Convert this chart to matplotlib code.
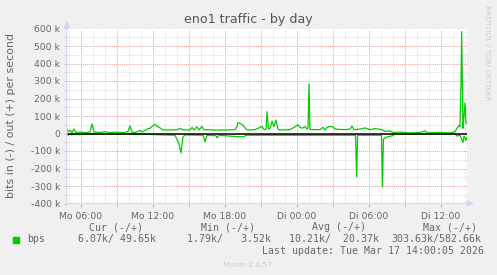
import matplotlib.pyplot as plt
from matplotlib.patches import Rectangle
import numpy as np

# hours since Monday 00:00 -> kbit/s
out_hours = [4.83, 4.92, 5.08, 5.25, 5.42, 5.58, 5.92, 6.33, 6.75, 6.92, 7.08, 7.58,
             8.0, 8.42, 8.83, 9.25, 9.67, 9.92, 10.08, 10.25, 10.5, 10.92, 11.08, 11.25,
             11.5, 11.58, 11.75, 12.0, 12.17, 12.33, 12.5, 12.67, 12.83, 13.42, 14.08, 14.25,
             14.5, 15.08, 15.25, 15.42, 15.67, 15.83, 16.08, 16.25, 16.5, 17.17, 18.0, 18.83,
             19.0, 19.08, 19.25, 19.5, 19.75, 19.92, 20.5, 21.08, 21.25, 21.42, 21.5, 21.63,
             21.75, 21.92, 22.08, 22.25, 22.42, 22.58, 23.42, 23.83, 24.08, 24.25, 24.42, 24.67,
             24.83, 24.92, 25.0, 25.08, 25.25, 25.92, 26.17, 26.33, 26.5, 26.75, 27.0, 27.17,
             28.0, 28.42, 28.58, 28.75, 29.25, 29.67, 30.08, 30.5, 31.08, 31.33, 31.75, 32.0,
             32.58, 33.42, 34.25, 34.67, 34.83, 35.92, 36.75, 37.17, 37.33, 37.5, 37.58, 37.67,
             37.72, 37.79, 37.83, 37.92, 38.0, 38.08, 38.17]
out_kbps = [28, 10, 18, 5, 25, 6, 8, 5, 9, 54, 8, 6,
            10, 5, 8, 6, 5, 12, 43, 8, 5, 18, 8, 15,
            22, 28, 30, 45, 52, 42, 35, 28, 20, 20, 22, 30,
            20, 20, 35, 20, 38, 20, 40, 20, 22, 20, 20, 22,
            40, 62, 58, 48, 25, 20, 22, 40, 22, 25, 125, 25,
            30, 70, 40, 77, 25, 20, 22, 38, 50, 35, 30, 40,
            25, 30, 283, 25, 22, 22, 35, 20, 35, 40, 38, 25,
            22, 25, 42, 22, 25, 32, 22, 28, 22, 12, 15, 5,
            8, 3, 6, 15, 4, 6, 3, 10, 30, 45, 40, 300,
            582, 250, 30, 100, 175, 60, 55]

in_hours = [4.83, 4.92, 5.08, 5.25, 5.42, 5.92, 6.33, 7.0, 8.0, 9.0, 10.0, 11.0,
            11.58, 12.83, 13.83, 14.17, 14.33, 14.5, 14.67, 16.17, 16.33, 16.5, 17.25, 17.33,
            17.5, 19.0, 19.58, 19.75, 28.88, 28.97, 29.05, 31.04, 31.12, 31.2, 31.5, 32.0,
            32.17, 34.0, 37.17, 37.33, 37.58, 37.83, 37.92, 38.08, 38.17]
in_kbps = [3, 10, 2, 8, 3, 6, 2, 3, 2, 3, 2, 4,
           5, 8, 10, 60, 111, 20, 8, 10, 47, 10, 12, 25,
           10, 18, 18, 10, 10, 247, 10, 10, 304, 32, 20, 12,
           2, 3, 2, 15, 8, 52, 15, 40, 20]

x_ticks = [6, 12, 18, 24, 30, 36]
x_tick_labels = ["Mo 06:00", "Mo 12:00", "Mo 18:00", "Di 00:00", "Di 06:00", "Di 12:00"]
y_ticks = [-400, -300, -200, -100, 0, 100, 200, 300, 400, 500, 600]
y_tick_labels = ["-400 k", "-300 k", "-200 k", "-100 k", "0", "100 k", "200 k",
                 "300 k", "400 k", "500 k", "600 k"]

legend_headers = ["Cur (-/+)", "Min (-/+)", "Avg (-/+)", "Max (-/+)"]
legend_values = ["6.07k/ 49.65k", "1.79k/   3.52k", "10.21k/  20.37k", "303.63k/582.66k"]

W, H = 497, 275


def px(x, y):
    '''pixel position (from top left) -> figure fraction'''
    return x / W, 1 - y / H


fig = plt.figure(figsize=(W / 100, H / 100), dpi=100, facecolor='#F0F0F0')
ax = fig.add_axes([67 / W, 1 - 203.5 / H, 400 / W, 175 / H])
ax.set_facecolor('white')

ax.set_xlim(4.833, 38.167)
ax.set_ylim(-400, 600)

ax.set_xticks(np.arange(6, 39, 3))
ax.set_xticklabels([x_tick_labels[x_ticks.index(h)] if h in x_ticks else "" for h in range(6, 39, 3)])
ax.set_xticks(np.arange(5, 39, 1), minor=True)
ax.set_yticks(y_ticks)
ax.set_yticklabels(y_tick_labels)
ax.set_yticks(np.arange(-350, 600, 100), minor=True)

ax.grid(which='minor', color='#DCDCDC', linestyle=(0, (1, 1)), linewidth=0.7)
ax.grid(which='major', color='#F2A0A0', linestyle=(0, (1, 1)), linewidth=0.7)
ax.set_axisbelow(True)

for s in ax.spines.values():
    s.set_visible(False)

ax.tick_params(axis='x', which='major', length=2, color='#F2A0A0', labelsize=6.7,
               labelcolor='#666666', pad=4)
ax.tick_params(axis='x', which='minor', length=0)
ax.tick_params(axis='y', which='both', length=2, color='#C8C8C8', labelsize=6.7,
               labelcolor='#666666', pad=3)

ax.plot(out_hours, out_kbps, color='#00CC00', linewidth=0.9)
ax.plot(in_hours, -np.array(in_kbps), color='#00CC00', linewidth=0.9)
ax.axhline(0, color='black', linewidth=1.1, zorder=3)

# axis arrows
arrow = dict(arrowstyle='-|>', color='#CFD6F8', lw=0.8, shrinkA=0, shrinkB=0, mutation_scale=10)
ax.annotate('', xy=(67, H - 21), xytext=(67, H - 203.5), xycoords='figure pixels',
            textcoords='figure pixels', arrowprops=arrow, annotation_clip=False)
ax.annotate('', xy=(474, H - 203.5), xytext=(67, H - 203.5), xycoords='figure pixels',
            textcoords='figure pixels', arrowprops=arrow, annotation_clip=False)

fig.text(*px(248.5, 20), "eno1 traffic - by day", ha='center', va='center',
         fontsize=9.1, color='#555555')
fig.text(*px(11, 116), "bits in (-) / out (+) per second", ha='center', va='center',
         rotation=90, fontsize=7.9, color='#666666')
fig.text(*px(487.5, 53), "RRDTOOL / TOBI OETIKER", ha='center', va='center',
         rotation=270, fontsize=5.4, color='#CCCCCC')

mono = 'DejaVu Sans Mono'
for label, x in zip(legend_headers, [89.3, 201, 312.3, 422.7]):
    fig.text(*px(x, 230.5), label, family=mono, fontsize=7.1, color='#666666', va='baseline')
for val, x in zip(legend_values, [78.3, 186.7, 289.3, 391.7]):
    fig.text(*px(x, 242.2), val, family=mono, fontsize=7.1, color='#666666', va='baseline')
fig.text(*px(26.7, 242.2), "bps", family=mono, fontsize=7.1, color='#666666', va='baseline')
fig.add_artist(Rectangle(px(13.3, 242.5), 6 / W, 6 / H, transform=fig.transFigure,
                         color='#00CC00'))
fig.text(*px(261.7, 253.9), "Last update: Tue Mar 17 14:00:05 2026", family=mono,
         fontsize=7.1, color='#666666', va='baseline')
fig.text(*px(247.5, 266.7), "Munin 2.0.57", ha='center', va='baseline', fontsize=5.4,
         color='#CCCCCC')

fig.savefig('out.png', dpi=100, facecolor=fig.get_facecolor())
